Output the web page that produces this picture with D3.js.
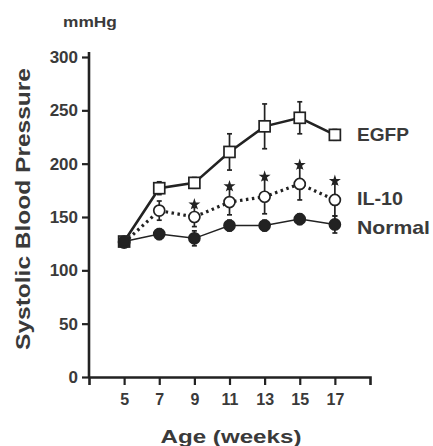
<!DOCTYPE html>
<html>
<head>
<meta charset="utf-8">
<script src="https://cdn.jsdelivr.net/npm/d3@7"></script>
<style>
  body { margin: 0; background: #fff; }
  text { font-family: "Liberation Sans", Arial, sans-serif; font-weight: bold; fill: #3a3a3a; }
</style>
</head>
<body>
<div id="chart"></div>
<script>
// data
const weeks = [5, 7, 9, 11, 13, 15, 17];
const egfpMean = [127, 177, 182, 211, 235, 243, 227];
const egfpErr = [4, 6, 5, 17, 21, 15, 5];
const il10Mean = [126, 156, 150, 164, 169, 181, 166];
const il10Err = [4, 9, 9, 12, 16, 15, 15];
const normalMean = [127, 134, 130, 142, 142, 148, 143];
const normalErr = [4, 5, 7, 5, 5, 5, 8];
const starWeeks = [9, 11, 13, 15, 17];
const yTicks = [0, 50, 100, 150, 200, 250, 300];

const width = 433, height = 446;
const ink = "#222";

const svg = d3.select("#chart")
    .append("svg")
    .attr("width", width)
    .attr("height", height);

const x = d3.scaleLinear().domain([3, 19]).range([89, 370]);
const y = d3.scaleLinear().domain([0, 300]).range([377, 57]);

// axes
const xAxis = svg.append("g")
    .attr("transform", "translate(0,377)")
    .call(d3.axisBottom(x).tickValues(weeks).tickSize(8).tickPadding(9));
const yAxis = svg.append("g")
    .attr("transform", "translate(89,0)")
    .call(d3.axisLeft(y).tickValues(yTicks).tickSize(7).tickPadding(4));

[xAxis, yAxis].forEach(g => {
    g.select(".domain").attr("stroke", ink).attr("stroke-width", 2.6);
    g.selectAll(".tick line").attr("stroke", ink).attr("stroke-width", 2.2);
    g.selectAll(".tick text").attr("fill", "#3a3a3a")
        .style("font-family", "Liberation Sans, Arial, sans-serif")
        .style("font-weight", "bold");
});
xAxis.selectAll(".tick text").style("font-size", "16px");
yAxis.selectAll(".tick text").style("font-size", "17px");
yAxis.select(".domain").attr("d", "M0,52V377");

// stretch a text horizontally to a given width (the figure's lettering is wide)
function fitWidth(sel, w) {
    const n = sel.node().getComputedTextLength();
    return w / n;
}

// axis titles
const xt = svg.append("text")
    .attr("text-anchor", "middle")
    .style("font-size", "19px")
    .text("Age (weeks)");
xt.attr("transform", `translate(231,443) scale(${fitWidth(xt, 141)},1)`);

const yt = svg.append("text")
    .attr("text-anchor", "middle")
    .style("font-size", "21px")
    .text("Systolic Blood Pressure");
yt.attr("transform", `translate(30,209) rotate(-90) scale(${fitWidth(yt, 282)},1)`);

const ut = svg.append("text")
    .style("font-size", "14px")
    .text("mmHg");
ut.attr("transform", `translate(63,27) scale(${fitWidth(ut, 54)},1)`);

// series
const series = [
    { name: "EGFP", mean: egfpMean, err: egfpErr, lw: 2.6, dash: null, shape: "square", labelY: 141, labelW: 52 },
    { name: "IL-10", mean: il10Mean, err: il10Err, lw: 3.2, dash: "2.5,3.5", shape: "open", labelY: 205, labelW: 46 },
    { name: "Normal", mean: normalMean, err: normalErr, lw: 1.5, dash: null, shape: "filled", labelY: 234, labelW: 73 }
];

series.forEach(s => {
    const pts = weeks.map((w, i) => ({ w, m: s.mean[i], e: s.err[i] }));

    // error bars
    const eb = svg.append("g");
    pts.forEach(p => {
        eb.append("line")
            .attr("x1", x(p.w)).attr("x2", x(p.w))
            .attr("y1", y(p.m - p.e)).attr("y2", y(p.m + p.e))
            .attr("stroke", ink).attr("stroke-width", 1.7);
        [p.m - p.e, p.m + p.e].forEach(v => {
            eb.append("line")
                .attr("x1", x(p.w) - 2.5).attr("x2", x(p.w) + 2.5)
                .attr("y1", y(v)).attr("y2", y(v))
                .attr("stroke", ink).attr("stroke-width", 1.7);
        });
    });

    const line = d3.line().x(d => x(d.w)).y(d => y(d.m));
    svg.append("path")
        .datum(pts)
        .attr("d", line)
        .attr("fill", "none")
        .attr("stroke", ink)
        .attr("stroke-width", s.lw)
        .attr("stroke-dasharray", s.dash);

    const marks = svg.append("g");
    pts.forEach(p => {
        if (s.shape === "square") {
            marks.append("rect")
                .attr("x", x(p.w) - 5.5).attr("y", y(p.m) - 5.5)
                .attr("width", 11).attr("height", 11)
                .attr("fill", "#fff").attr("stroke", ink).attr("stroke-width", 1.7);
        } else {
            marks.append("circle")
                .attr("cx", x(p.w)).attr("cy", y(p.m)).attr("r", 5.5)
                .attr("fill", s.shape === "filled" ? ink : "#fff")
                .attr("stroke", ink).attr("stroke-width", 1.7);
        }
    });

    const lt = svg.append("text")
        .style("font-size", "18px")
        .text(s.name);
    lt.attr("transform", `translate(357,${s.labelY}) scale(${fitWidth(lt, s.labelW)},1)`);
});

// significance stars sitting on the IL-10 error bars
const star = d3.symbol().type(d3.symbolStar).size(45);
starWeeks.forEach(w => {
    const i = weeks.indexOf(w);
    svg.append("path")
        .attr("d", star())
        .attr("transform", `translate(${x(w)},${y(il10Mean[i] + il10Err[i]) - 3})`)
        .attr("fill", ink);
});
</script>
</body>
</html>
